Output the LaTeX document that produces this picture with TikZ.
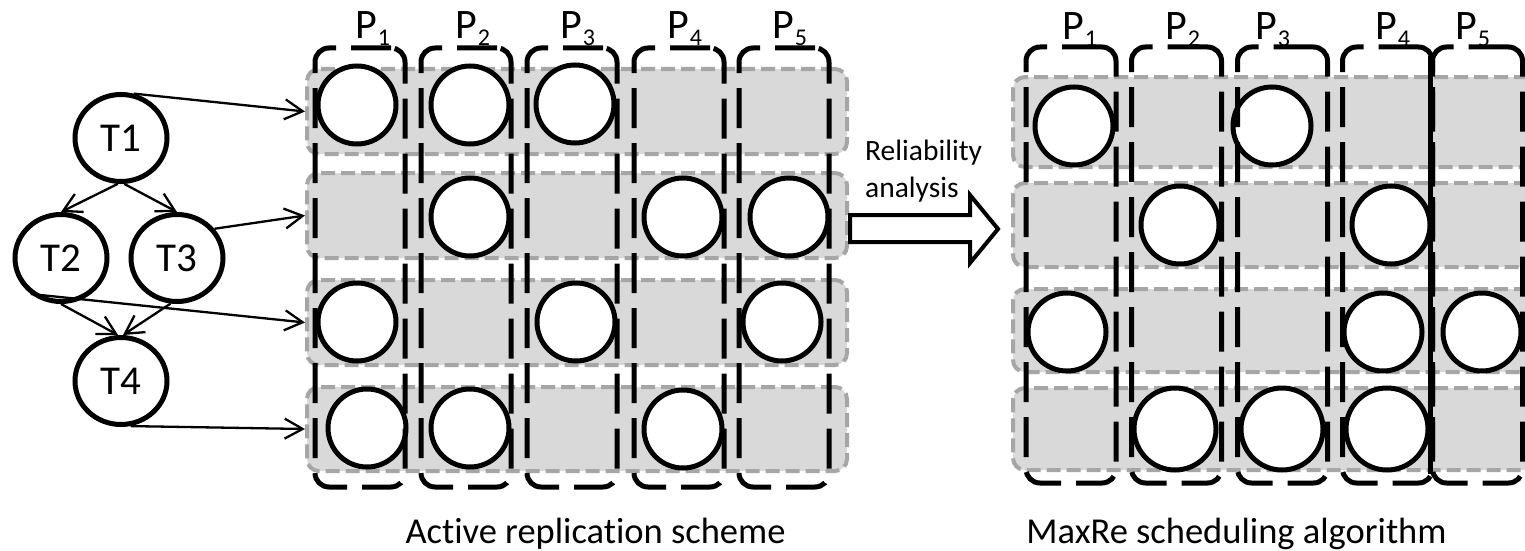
\documentclass[tikz,border=0pt]{standalone}
\usepackage{fontspec}
\setmainfont{Carlito}[Ligatures={NoCommon}]
\usetikzlibrary{arrows.meta,shapes.geometric}
\definecolor{rowgray}{HTML}{A6A6A6}
\definecolor{rowfill}{HTML}{D9D9D9}
\newcommand\plab[1]{P\hspace{1pt}\raisebox{-7pt}{\fontsize{24}{24}\selectfont #1}}
\begin{document}
\begin{tikzpicture}[x=1pt,y=-1pt,
  rowbox/.style={rectangle, draw=rowgray, fill=rowfill, line width=4pt,
    dash pattern=on 14pt off 6pt, rounded corners=12pt, inner sep=0pt},
  colbox/.style={rectangle, draw=black, line width=5pt,
    dash pattern=on 40pt off 15pt, rounded corners=14pt, inner sep=0pt,
    minimum width=90pt},
  slot/.style={circle, draw=black, fill=white, line width=5pt, inner sep=0pt,
    minimum size=78pt},
  task/.style={ellipse, draw=black, fill=white, line width=5pt, inner sep=0pt,
    minimum width=92pt, minimum height=87pt, font=\fontsize{41}{41}\selectfont},
  edge/.style={line width=2.3pt, -{Straight Barb[length=18pt,width=20pt]}},
  plabel/.style={anchor=base west, inner sep=0pt, font=\fontsize{42}{42}\selectfont},
  caption/.style={anchor=base, inner sep=0pt, font=\fontsize{36.5}{36.5}\selectfont}]
\clip (0,0) rectangle (1525,551);
\fill[white] (0,0) rectangle (1525,551);

% ---------- task graph ----------
\node[task] (T1) at (121,138) {T1};
\node[task] (T2) at (61,258) {T2};
\node[task] (T3) at (177,258) {T3};
\node[task] (T4) at (121,381) {T4};

% ---------- left panel: rows ----------
\node[rowbox, minimum width=540pt, minimum height=85pt] (LR1) at (577,111.5) {};
\node[rowbox, minimum width=540pt, minimum height=85pt] (LR2) at (577,215.5) {};
\node[rowbox, minimum width=540pt, minimum height=85pt] (LR3) at (577,322.5) {};
\node[rowbox, minimum width=540pt, minimum height=84pt] (LR4) at (577,429) {};

% left panel: slots
\node[slot] (la1) at (357,105) {};
\node[slot] (la2) at (470,105) {};
\node[slot] (la3) at (575,104) {};
\node[slot] (lb2) at (470,217) {};
\node[slot] (lb4) at (683,217) {};
\node[slot] (lb5) at (789,217) {};
\node[slot] (lc1) at (357,322) {};
\node[slot] (lc3) at (576,322) {};
\node[slot] (lc5) at (782,322) {};
\node[slot] (ld1) at (367,428) {};
\node[slot] (ld2) at (470,428) {};
\node[slot] (ld4) at (683,429) {};

% left panel: processor columns
\node[colbox, minimum height=439pt] (LP1) at (360,267.5) {};
\node[colbox, minimum height=439pt] (LP2) at (466,267.5) {};
\node[colbox, minimum height=439pt] (LP3) at (572,267.5) {};
\node[colbox, minimum height=439pt] (LP4) at (679,267.5) {};
\node[colbox, minimum height=439pt] (LP5) at (784,267.5) {};

\node[plabel] (lp1) at (355,39) {\plab{1}};
\node[plabel] (lp2) at (455,39) {\plab{2}};
\node[plabel] (lp3) at (560,39) {\plab{3}};
\node[plabel] (lp4) at (667,39) {\plab{4}};
\node[plabel] (lp5) at (772,39) {\plab{5}};

% ---------- right panel: rows ----------
\node[rowbox, minimum width=547pt, minimum height=90pt] (RR1) at (1286.5,122) {};
\node[rowbox, minimum width=547pt, minimum height=84pt] (RR2) at (1286.5,225) {};
\node[rowbox, minimum width=547pt, minimum height=83pt] (RR3) at (1286.5,330.5) {};
\node[rowbox, minimum width=547pt, minimum height=82pt] (RR4) at (1286.5,429) {};

% right panel: slots
\node[slot] (ra1) at (1074,126) {};
\node[slot] (ra3) at (1272,126) {};
\node[slot] (rb2) at (1180,225) {};
\node[slot] (rb4) at (1391,225) {};
\node[slot] (rc1) at (1067,332) {};
\node[slot] (rc4) at (1383,332) {};
\node[slot] (rc5) at (1482,332) {};
\node[slot, minimum size=82pt] (rd2) at (1175,429) {};
\node[slot, minimum size=82pt] (rd3) at (1282,429) {};
\node[slot, minimum size=82pt] (rd4) at (1387,429) {};

% right panel: processor columns
\node[colbox, minimum height=436pt] (RP1) at (1071,265) {};
\node[colbox, minimum height=436pt] (RP2) at (1176.5,265) {};
\node[colbox, minimum height=436pt] (RP3) at (1282.5,265) {};
\node[colbox, minimum height=436pt] (RP4) at (1387.5,265) {};
\node[colbox, minimum height=436pt] (RP5) at (1477.5,265) {};
\draw[line width=5pt] ([yshift=-12pt]RP5.north west) -- ([yshift=12pt]RP5.south west);

\node[plabel] (rp1) at (1062,40) {\plab{1}};
\node[plabel] (rp2) at (1165,40) {\plab{2}};
\node[plabel] (rp3) at (1255,40) {\plab{3}};
\node[plabel] (rp4) at (1375,40) {\plab{4}};
\node[plabel] (rp5) at (1455,40) {\plab{5}};

% ---------- connectors ----------
\draw[edge] (T1.266) -- (T2.north);
\draw[edge] (T1.274) -- (T3.north);
\draw[edge] (T2.south) -- ([xshift=-3pt]T4.north);
\draw[edge] (T3.262) -- ([xshift=2pt]T4.north);
\draw[edge] (T1.74) -- (LR1.west);
\draw[edge] (T3.38) -- (LR2.west);
\draw[edge] (T2.230) -- (LR3.west);
\draw[edge] (T4.282) -- (LR4.west);

% ---------- block arrow ----------
\draw[line width=4pt, fill=white, line join=miter]
  (850,215) -- (970,215) -- (970,195) -- (998,229) -- (970,263)
  -- (970,242) -- (850,242) -- cycle;
\node[anchor=base west, inner sep=0pt, align=left,
  font=\fontsize{29.5}{37}\selectfont] (rel) at (865,197) {Reliability\\analysis};

% ---------- captions ----------
\node[caption] (cap1) at (595.5,543.5) {Active replication scheme};
\node[caption] (cap2) at (1236.5,543) {MaxRe scheduling algorithm};
\end{tikzpicture}
\end{document}
